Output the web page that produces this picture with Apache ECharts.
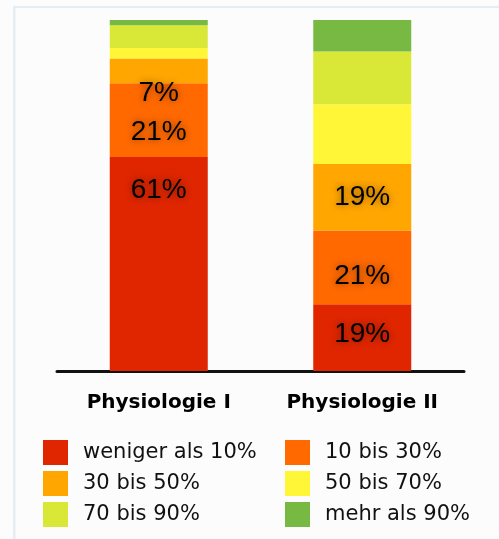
<!DOCTYPE html>
<html>
<head>
<meta charset="utf-8">
<script src="https://cdn.jsdelivr.net/npm/echarts@6/dist/echarts.min.js"></script>
<style>
html,body{margin:0;padding:0;background:#fcfcfc;}
#chart{width:499px;height:539px;}
</style>
</head>
<body>
<div id="chart"></div>
<script>
// ---- data ----
const categories = ['Physiologie I', 'Physiologie II'];
const seriesNames = ['weniger als 10%', '10 bis 30%', '30 bis 50%', '50 bis 70%', '70 bis 90%', 'mehr als 90%'];
const lessThan10 = [61, 19];
const from10to30 = [21, 21];
const from30to50 = [7, 19];
const from50to70 = [3, 17];
const from70to90 = [6.5, 15];
const moreThan90 = [1.5, 9];
const seriesValues = [lessThan10, from10to30, from30to50, from50to70, from70to90, moreThan90];

// ---- styling ----
const colors = ['#df2600', '#ff6900', '#ffa600', '#fff637', '#d9e836', '#78b944'];
const showLabel = [true, true, true, false, false, false];
// vertical label nudges per series per category (px)
const labelNudge = [[-74, -3], [12, 9], [22, 0], [0, 0], [0, 0], [0, 0]];

const chart = echarts.init(document.getElementById('chart'), null, {renderer: 'canvas'});

const series = seriesNames.map((name, si) => ({
  name: name,
  type: 'bar',
  stack: 'total',
  barWidth: 98,
  itemStyle: {color: colors[si]},
  data: seriesValues[si].map((v, ci) => ({
    value: v,
    label: {
      show: showLabel[si],
      position: 'inside',
      offset: [0, labelNudge[si][ci]],
      formatter: p => Math.round(p.value) + '%',
      fontFamily: 'Liberation Sans',
      fontSize: 28,
      color: '#000',
      textShadowColor: 'rgba(0,0,0,0.45)',
      textShadowBlur: 7
    }
  }))
}));

const legendCommon = {
  orient: 'vertical',
  itemWidth: 25,
  itemHeight: 25,
  itemGap: 6,
  icon: 'rect',
  top: 440,
  padding: 0,
  textStyle: {fontFamily: 'DejaVu Sans', fontSize: 21, color: '#111', padding: [0, 0, 0, 10]},
  selectedMode: false
};

chart.setOption({
  backgroundColor: '#fcfcfc',
  animation: false,
  grid: {left: 57, right: 35, top: 20, bottom: 168},
  xAxis: {
    type: 'category',
    data: categories,
    axisLine: {show: true, lineStyle: {color: '#111', width: 3}},
    axisTick: {show: false},
    axisLabel: {
      margin: 22,
      fontFamily: 'DejaVu Sans',
      fontWeight: 'bold',
      fontSize: 20,
      color: '#000'
    }
  },
  yAxis: {
    type: 'value',
    min: 0,
    max: 100,
    show: false,
    splitLine: {show: false}
  },
  legend: [
    Object.assign({}, legendCommon, {left: 43, data: [seriesNames[0], seriesNames[2], seriesNames[4]]}),
    Object.assign({}, legendCommon, {left: 285, data: [seriesNames[1], seriesNames[3], seriesNames[5]]})
  ],
  graphic: [
    {type: 'rect', shape: {x: 13, y: 6, width: 2.5, height: 533}, style: {fill: '#e6edf2'}, silent: true},
    {type: 'rect', shape: {x: 13, y: 6, width: 486, height: 2}, style: {fill: '#e6edf2'}, silent: true}
  ],
  series: series
});
</script>
</body>
</html>
